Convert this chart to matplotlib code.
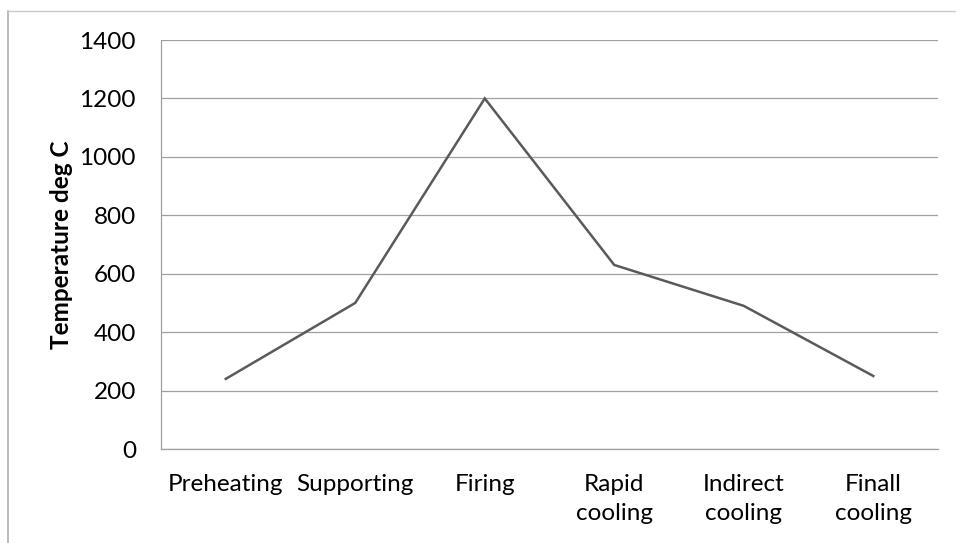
import matplotlib
matplotlib.use('Agg')
import matplotlib.pyplot as plt
from matplotlib.lines import Line2D

# Firing profile of the kiln, one value per stage
stages = ['Preheating', 'Supporting', 'Firing', 'Rapid\ncooling',
          'Indirect\ncooling', 'Finall\ncooling']
temperatures = [240, 500, 1200, 630, 490, 250]
y_ticks = [0, 200, 400, 600, 800, 1000, 1200, 1400]

plt.rcParams['font.family'] = ['Lato', 'DejaVu Sans']

fig = plt.figure(figsize=(9.56, 5.43), dpi=100)
fig.patch.set_facecolor('white')
ax = fig.add_axes([0.1684, 0.1731, 0.9812 - 0.1684, 0.9263 - 0.1731])

x = list(range(len(stages)))
ax.plot(x, temperatures, color='#5a5a5a', linewidth=1.8, solid_joinstyle='miter')

ax.set_xlim(-0.5, len(stages) - 0.5)
ax.set_ylim(0, 1400)
ax.set_yticks(y_ticks)
ax.set_xticks(x)
ax.set_xticklabels(stages, fontsize=17.5, linespacing=1.45)
ax.tick_params(axis='y', labelsize=17.5, length=0, pad=18)
ax.tick_params(axis='x', length=0, pad=18)

ax.grid(True, axis='y', color='#a0a0a0', linewidth=0.9)
ax.set_axisbelow(True)
for side in ['top', 'right']:
    ax.spines[side].set_visible(False)
for side in ['left', 'bottom']:
    ax.spines[side].set_color('#a0a0a0')
    ax.spines[side].set_linewidth(0.9)

ax.set_ylabel('Temperature deg C', fontsize=17.5, fontweight='bold', labelpad=5)

# chart-area border (left and top edges only are visible in the source)
fig.add_artist(Line2D([8 / 956, 8 / 956], [0, 1 - 11 / 543], transform=fig.transFigure,
                      color='#b0b0b0', linewidth=1.2))
fig.add_artist(Line2D([8 / 956, 1], [1 - 11 / 543, 1 - 11 / 543], transform=fig.transFigure,
                      color='#c8c8c8', linewidth=1.0))

fig.savefig('out.png', dpi=100)
